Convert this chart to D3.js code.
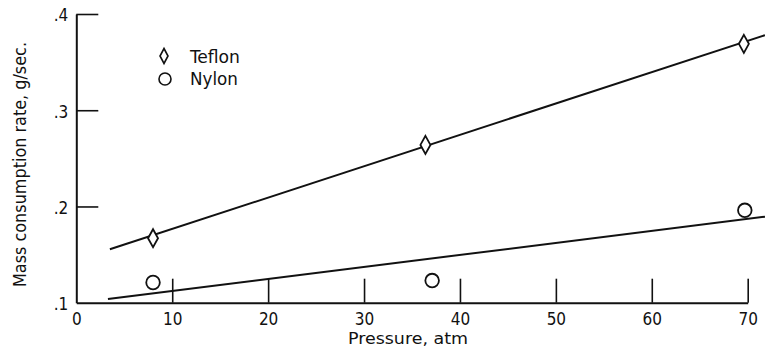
<!DOCTYPE html>
<html>
<head>
<meta charset="utf-8">
<script src="https://cdn.jsdelivr.net/npm/d3@7"></script>
<style>
  html, body { margin: 0; padding: 0; background: #fff; }
  svg { display: block; }
  text { font-family: "DejaVu Sans Condensed", "Liberation Sans Narrow", sans-serif; font-stretch: condensed; fill: #111; }
</style>
</head>
<body>
<svg id="chart" width="765" height="363"></svg>
<script>
// Measured points (pressure in atm, mass consumption rate in g/sec)
const teflonPressure = [8, 36.4, 69.6];
const teflonRate = [0.167, 0.264, 0.369];
const nylonPressure = [8, 37.1, 69.7];
const nylonRate = [0.121, 0.123, 0.196];

// Fitted straight lines (end points in data units)
const teflonFitPressure = [3.5, 71.8];
const teflonFitRate = [0.1555, 0.378];
const nylonFitPressure = [3.3, 71.8];
const nylonFitRate = [0.1038, 0.1894];

// Axis ticks
const xTicks = [0, 10, 20, 30, 40, 50, 60, 70];
const xTickLabels = ["0", "10", "20", "30", "40", "50", "60", "70"];
const yTicks = [0.1, 0.2, 0.3, 0.4];
const yTickLabels = [".1", ".2", ".3", ".4"];

const legendNames = ["Teflon", "Nylon"];

const svg = d3.select("#chart");
const x = d3.scaleLinear().domain([0, 70]).range([76.3, 747.7]);
const y = d3.scaleLinear().domain([0.1, 0.4]).range([302.7, 14]);

// Axes with inward ticks
const xAxis = d3.axisBottom(x)
  .tickValues(xTicks)
  .tickFormat((d, i) => xTickLabels[i])
  .tickSizeInner(-24).tickSizeOuter(0).tickPadding(10);
const yAxis = d3.axisLeft(y)
  .tickValues(yTicks)
  .tickFormat((d, i) => yTickLabels[i])
  .tickSizeInner(-22).tickSizeOuter(0).tickPadding(8);

const gx = svg.append("g").attr("transform", `translate(0,${y(0.1)})`).call(xAxis);
const gy = svg.append("g").attr("transform", `translate(${x(0)},0)`).call(yAxis);

[gx, gy].forEach(g => {
  g.select(".domain").attr("stroke", "#111").attr("stroke-width", 2);
  g.selectAll(".tick line").attr("stroke", "#111").attr("stroke-width", 1.6);
  g.selectAll(".tick text").attr("fill", "#111").style("font-family", null);
});
gx.selectAll(".tick text").style("font-size", "17px").attr("dy", "0.72em");
gy.selectAll(".tick text").style("font-size", "17px").attr("dy", "0.4em");
// the 0.1 and 0 ticks coincide with the axis lines
gy.selectAll(".tick line").filter(d => d === 0.1).remove();
gx.selectAll(".tick line").filter(d => d === 0).remove();

// Axis titles
svg.append("text")
  .attr("x", 348).attr("y", 344)
  .attr("textLength", 120).attr("lengthAdjust", "spacingAndGlyphs")
  .style("font-size", "16px")
  .text("Pressure, atm");

svg.append("text")
  .attr("transform", "translate(26,287) rotate(-90)")
  .attr("textLength", 245).attr("lengthAdjust", "spacingAndGlyphs")
  .style("font-size", "17px")
  .text("Mass consumption rate,  g/sec.");

// Fit lines
const line = d3.line().x(d => x(d[0])).y(d => y(d[1]));
const fits = [
  d3.zip(teflonFitPressure, teflonFitRate),
  d3.zip(nylonFitPressure, nylonFitRate)
];
svg.append("g").selectAll("path").data(fits).join("path")
  .attr("d", line)
  .attr("fill", "none")
  .attr("stroke", "#111")
  .attr("stroke-width", 2);

// Markers
const diamond = (cx, cy, w, h) =>
  `M${cx},${cy - h / 2}L${cx + w / 2},${cy}L${cx},${cy + h / 2}L${cx - w / 2},${cy}Z`;

svg.append("g").selectAll("path").data(d3.zip(teflonPressure, teflonRate)).join("path")
  .attr("d", d => diamond(x(d[0]), y(d[1]), 10, 18))
  .attr("fill", "#fff").attr("stroke", "#111").attr("stroke-width", 1.8);

svg.append("g").selectAll("circle").data(d3.zip(nylonPressure, nylonRate)).join("circle")
  .attr("cx", d => x(d[0])).attr("cy", d => y(d[1])).attr("r", 6.8)
  .attr("fill", "#fff").attr("stroke", "#111").attr("stroke-width", 1.8);

// Legend
const legend = svg.append("g").attr("transform", "translate(164,56)");
legend.append("path").attr("d", diamond(0, 0, 8, 15))
  .attr("fill", "#fff").attr("stroke", "#111").attr("stroke-width", 1.6);
legend.append("circle").attr("cx", 1).attr("cy", 23).attr("r", 6)
  .attr("fill", "#fff").attr("stroke", "#111").attr("stroke-width", 1.6);
legend.selectAll("text.lg").data(legendNames).join("text")
  .attr("class", "lg")
  .attr("x", 26).attr("y", (d, i) => i * 22 + 7)
  .attr("textLength", (d, i) => i === 0 ? 50 : 48)
  .attr("lengthAdjust", "spacingAndGlyphs")
  .style("font-size", "17px")
  .text(d => d);
</script>
</body>
</html>
